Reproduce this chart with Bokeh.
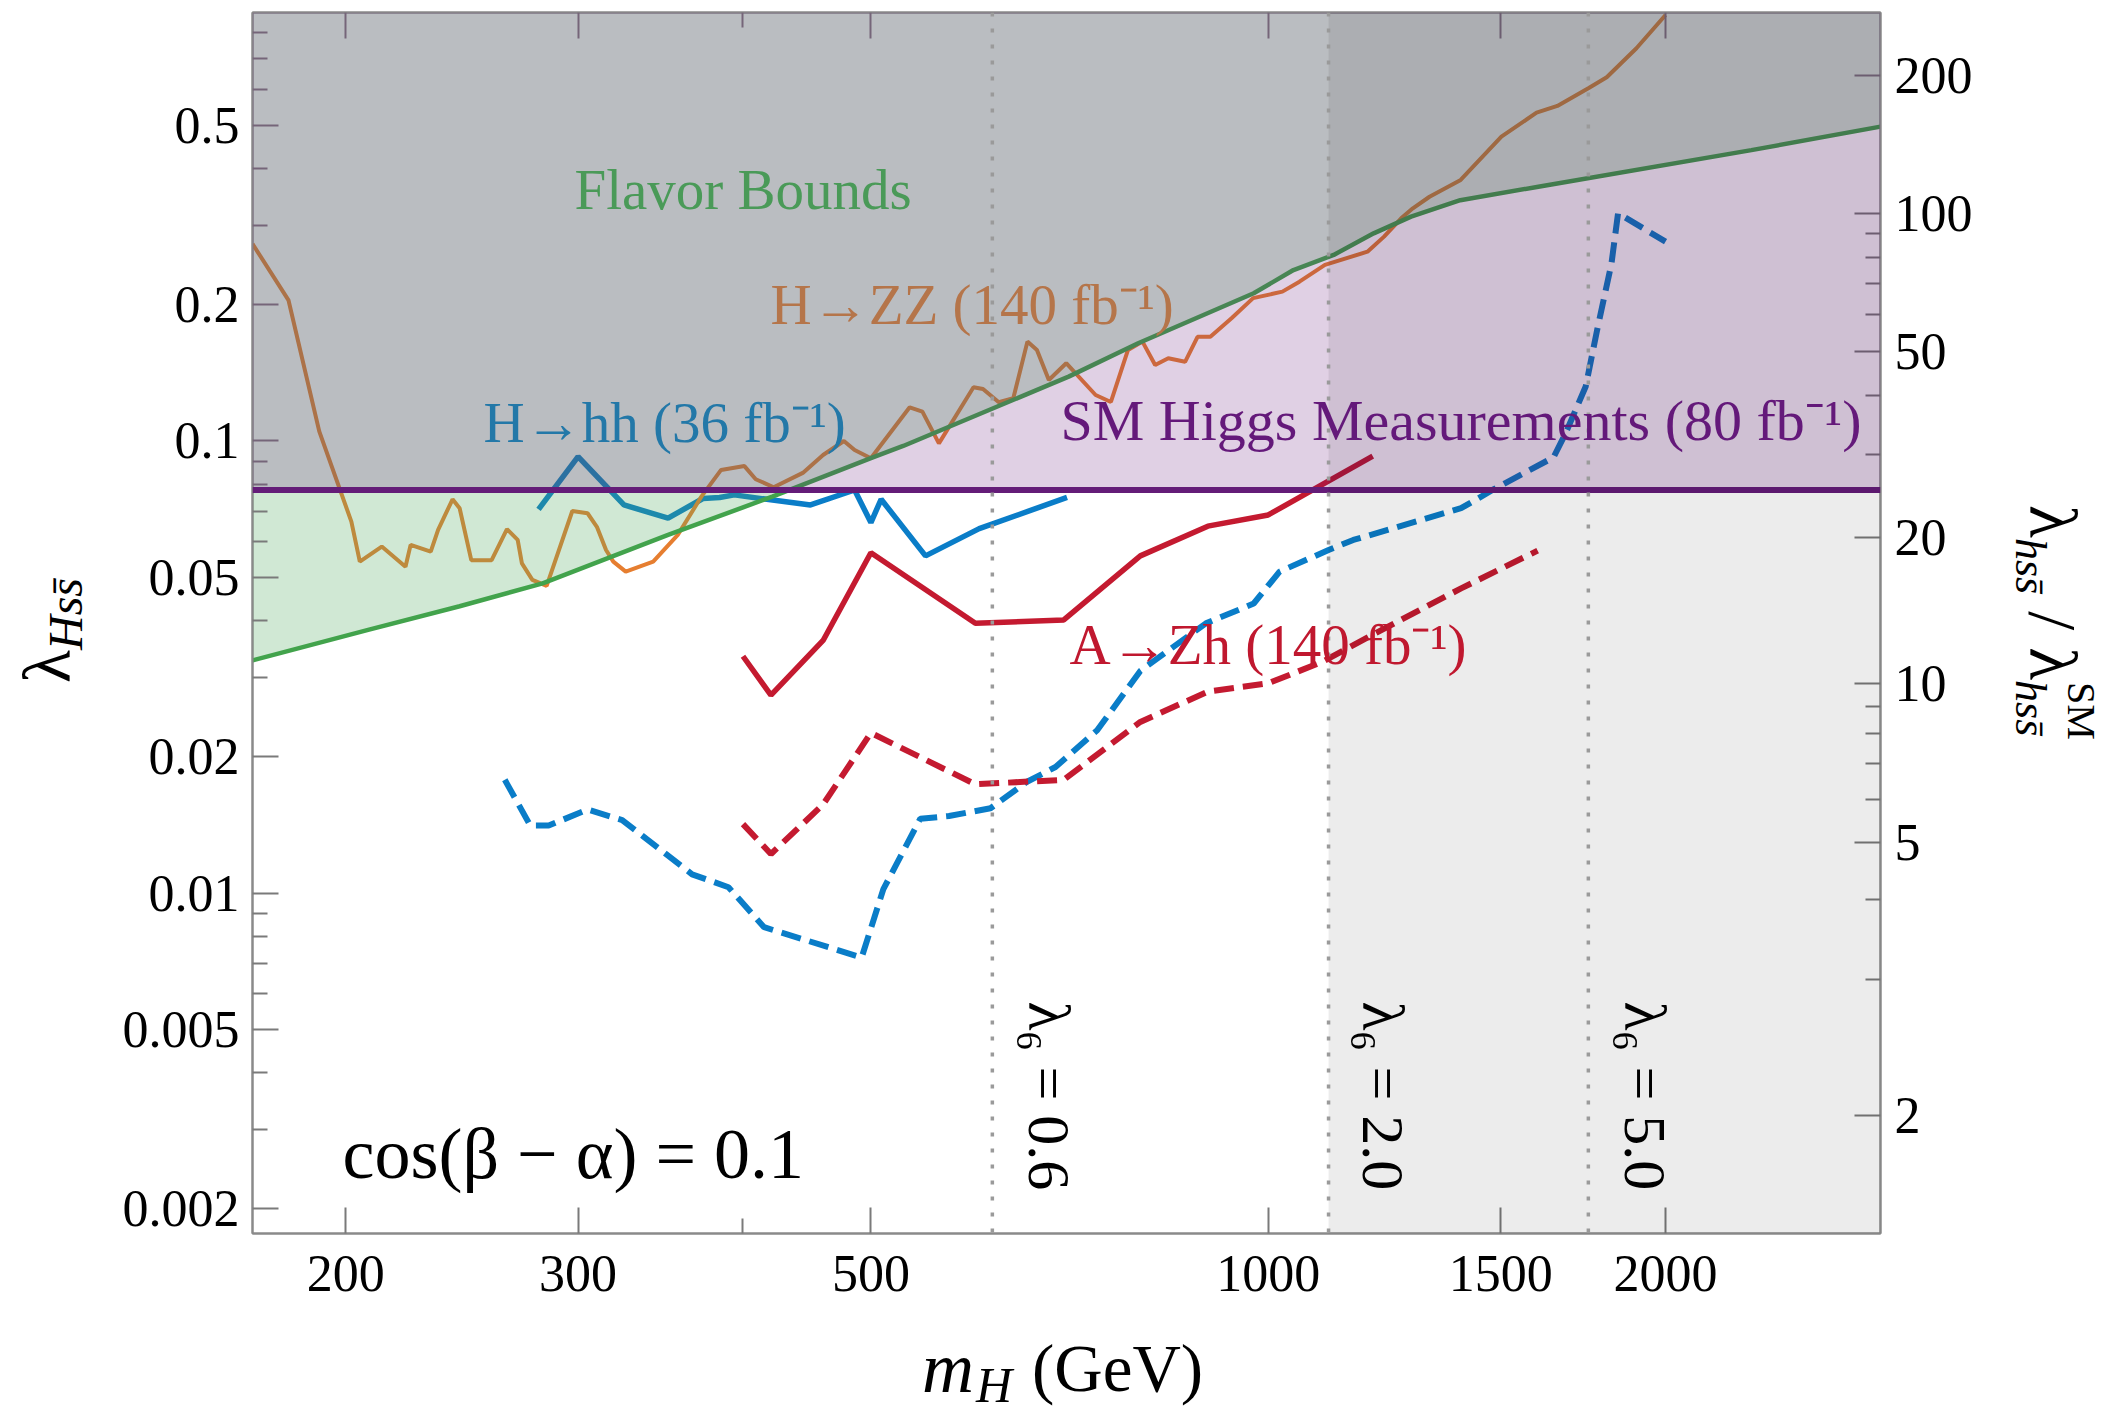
import math
from bokeh.plotting import figure
from bokeh.models import (Range1d, LogAxis, FixedTicker, CustomJSTickFormatter, Label,
                          Span, BoxAnnotation, Div)
from bokeh.layouts import row, column
from bokeh.embed import file_html
from bokeh.resources import INLINE

# ---------------- data ----------------
zz_mass = [170, 181, 191, 202, 205, 213, 222, 224, 232, 235, 241, 244, 249, 258, 265, 270, 272,
           277, 284, 297, 305, 310, 315, 319, 326, 342, 357, 372, 385, 401, 409, 422, 444, 460,
           477, 486, 500, 535, 547, 563, 598, 608, 625, 641, 657, 668, 682, 703, 740, 760, 783,
           803, 821, 840, 865, 884, 904, 938, 974, 1025, 1056, 1104, 1189, 1224, 1261, 1287,
           1325, 1399, 1502, 1597, 1656, 1748, 1805, 1901, 2000]
zz_coupling = [0.273, 0.205, 0.105, 0.0663, 0.0541, 0.0584, 0.0527, 0.0589, 0.0569, 0.0636,
               0.0743, 0.071, 0.0545, 0.0545, 0.0638, 0.0604, 0.0536, 0.0493, 0.0478, 0.070,
               0.0692, 0.0646, 0.0574, 0.0541, 0.0514, 0.0541, 0.062, 0.0753, 0.0863, 0.088,
               0.0823, 0.079, 0.085, 0.0931, 0.100, 0.0955, 0.0916, 0.1187, 0.1161, 0.0988,
               0.1315, 0.1303, 0.1218, 0.1243, 0.1659, 0.159, 0.1364, 0.1486, 0.1264, 0.122,
               0.159, 0.1659, 0.1473, 0.1524, 0.1497, 0.170, 0.170, 0.1868, 0.207, 0.214,
               0.2251, 0.2452, 0.2623, 0.2832, 0.3109, 0.3272, 0.347, 0.378, 0.4713, 0.5324,
               0.5511, 0.603, 0.6377, 0.7393, 0.876]

hh36_mass = [280, 300, 325, 351, 373, 384, 394, 417, 450, 486, 500, 509, 550, 604, 704]
hh36_coupling = [0.0706, 0.0923, 0.0722, 0.0675, 0.0746, 0.075, 0.076, 0.0743, 0.0722, 0.0779,
                 0.066, 0.0743, 0.0557, 0.064, 0.075]

azh_mass = [400, 420, 460, 500, 600, 700, 800, 900, 1000, 1200]
azh_coupling = [0.0334, 0.0274, 0.0362, 0.0566, 0.0395, 0.0402, 0.0557, 0.0648, 0.0686, 0.0926]

azh_proj_mass = [400, 420, 460, 500, 600, 700, 800, 900, 1000, 1100, 1200, 1400, 1600]
azh_proj_coupling = [0.0142, 0.0122, 0.0157, 0.0226, 0.0174, 0.0178, 0.0239, 0.0279, 0.0291,
                     0.0325, 0.0373, 0.0472, 0.0572]

hh_proj_mass = [264, 276, 285, 305, 324, 366, 390, 415, 492, 511, 545, 573, 616, 656, 690, 742,
                800, 897, 975, 1020, 1111, 1160, 1400, 1480, 1645, 1680, 1740, 1775, 1820, 1841,
                2000]
hh_proj_coupling = [0.0178, 0.0141, 0.0141, 0.0153, 0.0145, 0.011, 0.0103, 0.0084, 0.0072,
                    0.0102, 0.0146, 0.0148, 0.0154, 0.0176, 0.019, 0.0229, 0.031, 0.0395, 0.0437,
                    0.0514, 0.0574, 0.0604, 0.071, 0.078, 0.092, 0.104, 0.132, 0.176, 0.247,
                    0.319, 0.276]

flavor_mass = [170, 208, 244, 282, 351, 421, 500, 529, 706, 797, 975, 1045, 1121, 1202, 1283,
               1398, 1602, 2323, 2910]
flavor_bound = [0.0327, 0.0382, 0.0431, 0.0484, 0.062, 0.0753, 0.0916, 0.0975, 0.1388, 0.1645,
                0.2122, 0.2389, 0.258, 0.288, 0.3135, 0.341, 0.3652, 0.44, 0.496]

sm_higgs_bound = 0.0779

lambda6_mass = [618, 1111, 1748]
lambda6_text = ["λ₆ = 0.6", "λ₆ = 2.0", "λ₆ = 5.0"]

x_ticks = [200, 300, 500, 1000, 1500, 2000]
x_minor = [400]
y_ticks = [0.002, 0.005, 0.01, 0.02, 0.05, 0.1, 0.2, 0.5]
y_minor = [0.003, 0.004, 0.006, 0.007, 0.008, 0.009, 0.03, 0.04, 0.06, 0.07, 0.08, 0.09,
           0.3, 0.4, 0.6, 0.7, 0.8, 0.9]
ratio_ticks = [2, 5, 10, 20, 50, 100, 200]
ratio_minor = [3, 4, 6, 7, 8, 9, 30, 40, 60, 70, 80, 90]
ratio_scale = 310.0   # lambda_hss/lambda_hss^SM = 1 + ratio_scale * lambda_Hss

x_lo, x_hi = 170, 2910
y_lo, y_hi = 0.001765, 0.887

SERIF = "Liberation Serif"
AXIS_GRAY = "#8a8a8a"
TICK_GRAY = "#7a7a7a"

LEFT_W, FIG_W, RIGHT_W = 98, 1892, 104
FIG_H, BOTTOM_H = 1321, 84

p = figure(width=FIG_W, height=FIG_H, x_axis_type="log", y_axis_type="log",
           x_range=Range1d(x_lo, x_hi), y_range=Range1d(y_lo, y_hi),
           output_backend="svg", toolbar_location=None,
           min_border_left=154, min_border_right=110, min_border_top=12, min_border_bottom=88)
p.grid.visible = False
p.outline_line_color = AXIS_GRAY
p.outline_line_width = 2
p.background_fill_color = "white"
p.border_fill_color = "white"


def style_axis(ax, label_size="52px", standoff=16):
    ax.axis_line_color = AXIS_GRAY
    ax.axis_line_width = 2
    ax.major_tick_in = 26
    ax.major_tick_out = 0
    ax.minor_tick_in = 15
    ax.minor_tick_out = 0
    ax.major_tick_line_color = TICK_GRAY
    ax.minor_tick_line_color = TICK_GRAY
    ax.major_tick_line_width = 2
    ax.minor_tick_line_width = 2
    ax.major_label_text_font = SERIF
    ax.major_label_text_font_size = label_size
    ax.major_label_text_color = "black"
    ax.major_label_standoff = standoff


fmt = CustomJSTickFormatter(code="return tick.toString();")

xa = p.xaxis[0]
xa.ticker = FixedTicker(ticks=x_ticks, minor_ticks=x_minor)
xa.formatter = fmt
style_axis(xa, standoff=22)

ya = p.yaxis[0]
ya.ticker = FixedTicker(ticks=y_ticks, minor_ticks=y_minor)
ya.formatter = fmt
style_axis(ya, standoff=13)

right = LogAxis(ticker=FixedTicker(ticks=[(r - 1) / ratio_scale for r in ratio_ticks],
                                   minor_ticks=[(r - 1) / ratio_scale for r in ratio_minor]),
                formatter=CustomJSTickFormatter(args=dict(s=ratio_scale),
                                                code="return String(Math.round(1 + s*tick));"))
style_axis(right, standoff=14)
p.add_layout(right, "right")

top = LogAxis(ticker=FixedTicker(ticks=x_ticks, minor_ticks=x_minor))
style_axis(top, label_size="0px", standoff=0)
top.major_label_text_alpha = 0
p.add_layout(top, "above")

# ---------------- data lines ----------------
BLUE = "#0a7dc8"
RED = "#c41a30"
ORANGE = "#e67e30"
p.line(hh_proj_mass, hh_proj_coupling, line_color=BLUE, line_width=6, line_dash="20 9")
p.line(azh_proj_mass, azh_proj_coupling, line_color=RED, line_width=6, line_dash="20 9")
p.line(azh_mass, azh_coupling, line_color=RED, line_width=5.5)
p.line(hh36_mass, hh36_coupling, line_color=BLUE, line_width=5.5)
p.line(zz_mass, zz_coupling, line_color=ORANGE, line_width=4)

# flavor-bound exclusion (translucent, over the lines)
p.varea(x=flavor_mass, y1=flavor_bound, y2=[1.0] * len(flavor_mass),
        fill_color=(81, 170, 96), fill_alpha=0.27)
p.line(flavor_mass, flavor_bound, line_color="#42a34c", line_width=4.5)

# SM Higgs measurement exclusion
p.add_layout(BoxAnnotation(bottom=sm_higgs_bound, fill_color=(100, 20, 120), fill_alpha=0.2,
                           line_alpha=0))
p.add_layout(Span(location=sm_higgs_bound, dimension="width", line_color="#641c78",
                  line_width=6))

# lambda_6 > 2 region
p.add_layout(BoxAnnotation(left=lambda6_mass[1], fill_color="black", fill_alpha=0.075,
                           line_alpha=0))
for m in lambda6_mass:
    p.add_layout(Span(location=m, dimension="height", line_color="#9a9a9a", line_width=3.5,
                      line_dash="4 12"))


# ---------------- in-frame texts (screen units relative to the frame, centred vertically) ----
def lab(txt, x, y, size, color="black", angle=0.0, style="normal"):
    p.add_layout(Label(x=x, y=y, x_units="screen", y_units="screen", text=txt,
                       text_font=SERIF, text_font_size=f"{size}px", text_color=color,
                       text_font_style=style, angle=angle, text_align="left",
                       text_baseline="middle"))


lab("Flavor Bounds", 322, 1044, 57, "#4a9a58")
lab("H→ZZ (140 fb⁻¹)", 518, 929, 57, "#b5754a")
lab("H→hh (36 fb⁻¹)", 231, 811, 57, "#2378a8")
lab("SM Higgs Measurements (80 fb⁻¹)", 808, 813, 58, "#64197a")
lab("A→Zh (140 fb⁻¹)", 817, 589, 57, "#c0182f")
lab("cos(β − α) = 0.1", 90, 80, 72)

for xs, t in zip([796, 1130, 1392], lambda6_text):
    lab(t, xs, 232, 60, angle=-math.pi / 2)

# ---------------- axis titles as HTML text around the figure ----------------
FONT = "font-family:'Liberation Serif',serif;line-height:1;white-space:nowrap;color:black;"
SB = "s&#x0304;"

left_html = (
    f'<div style="position:relative;width:{LEFT_W}px;height:{FIG_H}px;">'
    f'<div style="position:absolute;left:13px;top:683px;transform:rotate(-90deg);'
    f'transform-origin:0 0;font-size:68px;{FONT}">λ'
    f'<span style="font-size:48px;font-style:italic;vertical-align:-12px;">Hs{SB}</span>'
    f'</div></div>')

right_html = (
    f'<div style="position:relative;width:{RIGHT_W}px;height:{FIG_H}px;">'
    f'<div style="position:absolute;left:97px;top:505px;transform:rotate(90deg);'
    f'transform-origin:0 0;font-size:68px;{FONT}">λ'
    f'<span style="font-size:44px;font-style:italic;vertical-align:-14px;">hs{SB}</span>'
    f' / λ'
    f'<span style="position:relative;font-size:44px;font-style:italic;vertical-align:-14px;">'
    f'hs{SB}<span style="position:absolute;left:2px;top:-46px;font-style:normal;'
    f'font-size:40px;">SM</span></span>'
    f'</div></div>')

bottom_html = (
    f'<div style="position:relative;width:{LEFT_W + FIG_W + RIGHT_W}px;height:{BOTTOM_H}px;">'
    f'<span style="position:absolute;left:922px;top:11px;font-size:72px;font-style:italic;{FONT}">m</span>'
    f'<span style="position:absolute;left:976px;top:39px;font-size:50px;font-style:italic;{FONT}">H</span>'
    f'<span style="position:absolute;left:1032px;top:14px;font-size:67px;{FONT}">(GeV)</span>'
    f'</div>')

left_div = Div(text=left_html, width=LEFT_W, height=FIG_H, margin=(0, 0, 0, 0),
               styles={"overflow": "visible"})
right_div = Div(text=right_html, width=RIGHT_W, height=FIG_H, margin=(0, 0, 0, 0),
                styles={"overflow": "visible"})
bottom_div = Div(text=bottom_html, width=LEFT_W + FIG_W + RIGHT_W, height=BOTTOM_H,
                 margin=(0, 0, 0, 0), styles={"overflow": "visible"})

layout = column(row(left_div, p, right_div, spacing=0), bottom_div, spacing=0)

open("out.html", "w").write(file_html(layout, INLINE))
